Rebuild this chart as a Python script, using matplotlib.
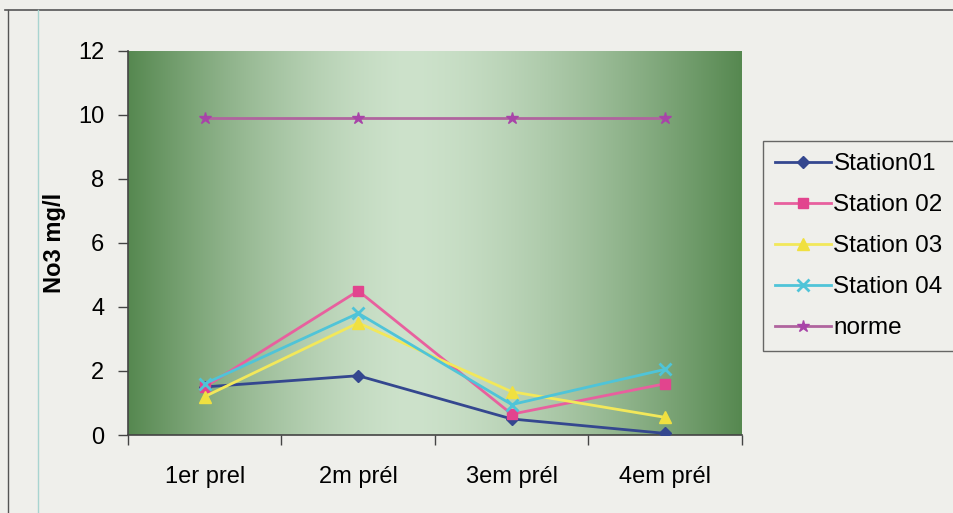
import numpy as np
import matplotlib
matplotlib.use("Agg")
import matplotlib.pyplot as plt
from matplotlib.lines import Line2D

plt.rcParams['font.family'] = ['Liberation Sans', 'DejaVu Sans']

categories = ["1er prel", "2m prél", "3em prél", "4em prél"]
station01 = [1.5, 1.85, 0.5, 0.05]
station02 = [1.5, 4.5, 0.65, 1.6]
station03 = [1.2, 3.5, 1.35, 0.55]
station04 = [1.6, 3.8, 0.95, 2.05]
norme = [9.9, 9.9, 9.9, 9.9]
yticks = [0, 2, 4, 6, 8, 10, 12]

series = [
    ("Station01", station01, dict(color="#34478f", marker="D", ms=6, mfc="#34478f", mec="#34478f")),
    ("Station 02", station02, dict(color="#e8609e", marker="s", ms=7, mfc="#e2448e", mec="#e2448e")),
    ("Station 03", station03, dict(color="#f2e85a", marker="^", ms=8, mfc="#f0e040", mec="#f0e040")),
    ("Station 04", station04, dict(color="#4fc4d8", marker="x", ms=8, mew=2, mec="#4fc4d8")),
    ("norme", norme, dict(color="#b0649e", marker="*", ms=9, mfc="#a844a8", mec="#a844a8")),
]

fig = plt.figure(figsize=(9.54, 5.13), dpi=100)
fig.patch.set_facecolor("#efefeb")

# outer frame lines of the sheet
fig.add_artist(Line2D([5 / 954, 1], [1 - 10 / 513, 1 - 10 / 513], color="#555555", lw=1.2))
fig.add_artist(Line2D([8 / 954, 8 / 954], [0, 1 - 10 / 513], color="#555555", lw=1.0))
fig.add_artist(Line2D([38 / 954, 38 / 954], [0, 1 - 10 / 513], color="#a8d4d0", lw=1.0))

ax = fig.add_axes([128 / 954, 1 - 435 / 513, (742 - 128) / 954, (435 - 50.5) / 513])

# green gradient background: darker at the sides, lighter toward the middle
nx, ny = 400, 200
xs = np.linspace(0, 1, nx)
ys = np.linspace(0, 1, ny)
X, Y = np.meshgrid(xs, ys)
cx = 0.46
t = np.clip(np.abs(X - cx) / np.where(X < cx, cx, 1 - cx), 0, 1) ** 1.5
light = np.array([205, 226, 203]) / 255
dark = np.array([86, 136, 80]) / 255
img = light[None, None, :] * (1 - t[..., None]) + dark[None, None, :] * t[..., None]
ax.imshow(img, extent=[0, 1, 0, 1], transform=ax.transAxes, aspect="auto",
          origin="lower", zorder=0, interpolation="bilinear")

x = np.arange(len(categories))
for name, vals, style in series:
    ax.plot(x, vals, lw=2, label=name, zorder=3, **style)

ax.set_xlim(-0.5, len(categories) - 0.5)
ax.set_ylim(0, 12)
ax.set_yticks(yticks)
ax.set_yticklabels([str(v) for v in yticks], fontsize=17)
ax.set_xticks(x)
ax.set_xticklabels(categories, fontsize=17)
ax.set_xticks(np.arange(-0.5, len(categories)), minor=True)
ax.tick_params(axis="x", which="major", length=0, pad=22)
ax.tick_params(axis="x", which="minor", length=7, color="#444444", width=1)
ax.tick_params(axis="y", length=7, color="#444444", width=1, pad=10)
ax.set_ylabel("No3 mg/l", fontsize=17, fontweight="bold", labelpad=9)
for side in ("top", "right"):
    ax.spines[side].set_visible(False)
for side in ("left", "bottom"):
    ax.spines[side].set_color("#444444")
    ax.spines[side].set_linewidth(1.2)

leg = fig.legend(loc="upper left", bbox_to_anchor=(763 / 954, 1 - 141 / 513),
                 fontsize=17.5, frameon=True, fancybox=False, handlelength=2.3,
                 handletextpad=0.1, borderpad=0.5, labelspacing=0.78,
                 borderaxespad=0)
leg.get_frame().set_edgecolor("#444444")
leg.get_frame().set_facecolor("#efefeb")
leg.get_frame().set_linewidth(1.0)

fig.savefig("out.png", dpi=100, facecolor=fig.get_facecolor())
